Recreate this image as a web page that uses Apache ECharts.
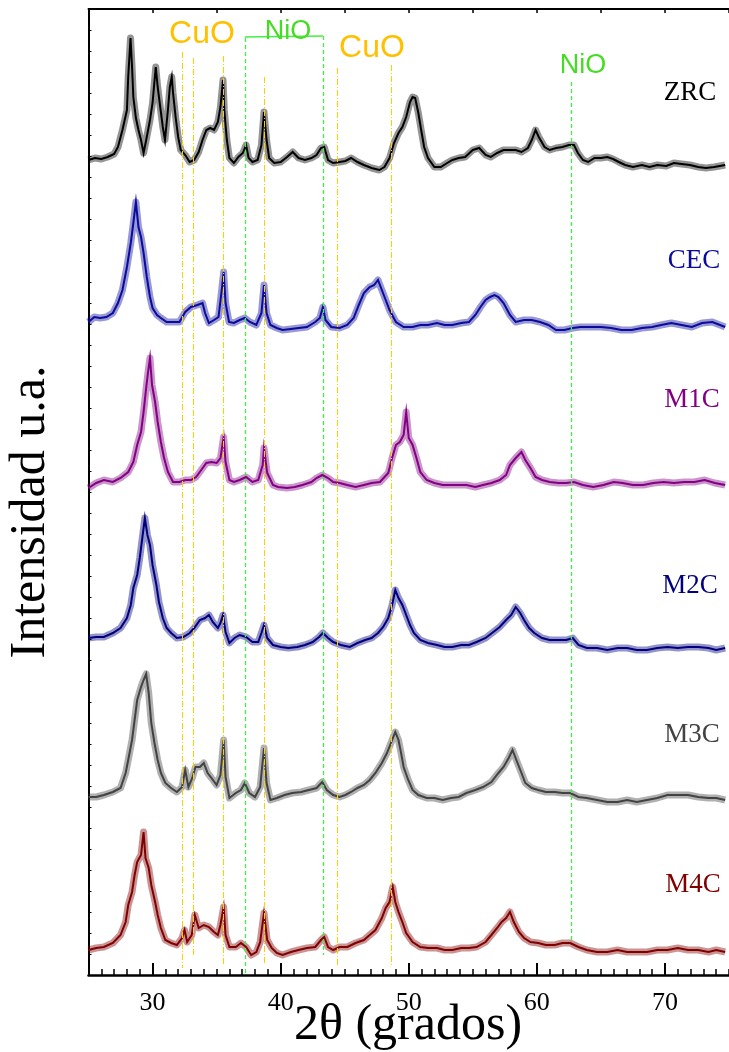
<!DOCTYPE html>
<html><head><meta charset="utf-8">
<script src="https://cdn.jsdelivr.net/npm/echarts@6/dist/echarts.min.js"></script>
<style>html,body{margin:0;padding:0;background:#fff}#c{width:729px;height:1052px}</style>
</head><body><div id="c"></div>
<script>
// ---------- DATA ----------
const sampleNames = ['ZRC','CEC','M1C','M2C','M3C','M4C'];
const xTickLabels = [30,40,50,60,70];
const cuoPeaks = [32.3,33.2,35.5,38.7,44.4,48.6];
const nioPeaks = [37.2,43.3,62.7];
// intensity above each pattern's own baseline (a.u.)
const zrc = [[25.0,12],[25.5,14],[26.0,13],[26.5,15],[27.0,18],[27.3,25],[27.65,42],[28.0,62],[28.1,95],[28.28,134],[28.4,105],[28.5,75],[28.7,54],[28.9,42],[29.1,32],[29.3,19],[29.55,35],[29.8,52],[30.0,69],[30.25,105],[30.4,85],[30.6,65],[30.8,45],[30.97,32],[31.2,62],[31.35,85],[31.5,95],[31.6,79],[31.8,55],[32.0,35],[32.2,22],[32.55,17],[32.9,10],[33.25,12],[33.6,20],[33.9,32],[34.2,42],[34.5,44],[34.8,42],[35.1,50],[35.3,65],[35.5,92],[35.6,62],[35.8,32],[36.0,14],[36.35,9],[36.7,15],[37.05,19],[37.3,27],[37.5,14],[37.8,10],[38.2,12],[38.5,27],[38.7,60],[38.9,32],[39.1,14],[39.5,9],[40.0,10],[40.5,15],[40.94,20],[41.4,14],[41.9,12],[42.4,14],[42.8,17],[43.15,24],[43.4,25],[43.7,12],[44.1,9],[44.6,10],[45.05,11],[45.5,14],[46.0,10],[46.5,7],[47.1,4],[47.7,2],[48.1,5],[48.5,14],[48.85,29],[49.2,39],[49.5,45],[49.8,55],[50.1,70],[50.3,75],[50.5,74],[50.75,59],[50.97,42],[51.2,25],[51.5,14],[52.0,5],[52.5,5],[53.0,9],[53.4,12],[53.9,14],[54.4,15],[55.0,22],[55.5,24],[56.0,17],[56.4,15],[56.9,19],[57.4,22],[57.9,22],[58.35,22],[58.8,20],[59.3,24],[59.6,32],[59.9,42],[60.15,35],[60.6,25],[61.0,22],[61.5,24],[62.0,25],[62.5,27],[62.9,27],[63.2,19],[63.6,12],[64.0,10],[64.5,14],[65.0,14],[65.5,15],[65.95,13],[66.4,10],[66.9,7],[67.5,5],[68.2,7],[68.8,5],[69.4,7],[70.1,6],[70.7,9],[71.3,8],[71.95,7],[72.6,5],[73.2,4],[73.85,5],[74.7,7]];
const cec = [[25.0,13],[25.45,18],[25.9,17],[26.4,18],[26.9,22],[27.3,32],[27.65,45],[28.0,68],[28.3,92],[28.5,112],[28.7,133],[28.9,108],[29.1,98],[29.3,82],[29.55,58],[29.8,38],[30.0,27],[30.35,20],[30.65,17],[31.1,13],[31.6,13],[32.1,13],[32.55,23],[33.0,28],[33.5,30],[33.9,32],[34.1,22],[34.4,12],[34.8,15],[35.15,18],[35.4,45],[35.55,63],[35.7,32],[35.97,13],[36.35,12],[36.8,15],[37.2,17],[37.6,13],[38.1,10],[38.5,22],[38.7,50],[38.9,22],[39.2,10],[39.7,7],[40.15,5],[40.8,6],[41.4,7],[42.05,8],[42.7,13],[43.06,17],[43.3,28],[43.5,15],[43.95,8],[44.6,7],[45.2,10],[45.7,17],[46.1,30],[46.5,42],[46.95,48],[47.3,50],[47.6,55],[47.9,45],[48.2,35],[48.5,25],[49.0,13],[49.6,8],[50.3,8],[50.9,10],[51.5,10],[52.2,12],[52.8,10],[53.4,10],[54.1,12],[54.7,13],[55.2,20],[55.6,28],[56.0,35],[56.35,38],[56.7,40],[57.0,38],[57.4,32],[57.9,20],[58.35,13],[59.0,15],[59.6,15],[60.25,13],[60.9,10],[61.5,5],[62.15,5],[62.8,7],[63.4,8],[64.2,8],[65.0,8],[65.8,7],[66.6,5],[67.4,5],[68.2,7],[69.0,8],[69.7,10],[70.5,12],[71.3,10],[72.1,8],[72.9,12],[73.7,13],[74.7,8]];
const m1c = [[25.0,4],[25.6,9],[26.2,12],[26.9,10],[27.5,14],[28.1,20],[28.5,30],[28.8,47],[29.1,60],[29.3,80],[29.5,104],[29.65,120],[29.8,134],[29.96,107],[30.2,90],[30.4,70],[30.65,50],[30.9,34],[31.2,20],[31.6,10],[32.1,10],[32.55,12],[33.0,12],[33.4,15],[33.8,22],[34.2,29],[34.6,30],[35.0,29],[35.3,34],[35.55,55],[35.7,30],[36.0,12],[36.35,10],[36.8,12],[37.3,15],[37.8,10],[38.25,12],[38.6,27],[38.7,44],[38.95,19],[39.4,7],[39.8,5],[40.5,4],[41.1,5],[41.7,7],[42.4,10],[42.8,14],[43.25,17],[43.7,14],[44.1,10],[44.6,9],[45.2,7],[45.85,5],[46.5,7],[47.1,9],[47.75,10],[48.4,19],[48.7,34],[49.0,47],[49.3,50],[49.6,57],[49.8,80],[50.0,54],[50.3,47],[50.6,34],[50.9,20],[51.4,12],[52.0,9],[52.65,7],[53.3,7],[53.9,7],[54.5,7],[55.2,5],[55.8,7],[56.45,9],[57.1,12],[57.6,17],[57.9,27],[58.35,34],[58.8,40],[59.1,32],[59.5,24],[59.9,15],[60.4,12],[61.0,10],[61.7,9],[62.3,9],[62.9,10],[63.6,7],[64.4,5],[65.2,7],[66.0,10],[66.7,9],[67.5,7],[68.3,7],[69.1,9],[69.9,10],[70.7,9],[71.5,10],[72.3,10],[73.1,12],[73.9,9],[74.7,7]];
const m2c = [[25.0,14],[25.6,15],[26.2,15],[26.9,19],[27.5,24],[28.0,34],[28.3,47],[28.5,64],[28.8,77],[29.0,94],[29.2,114],[29.4,134],[29.6,117],[29.8,107],[30.0,87],[30.3,67],[30.5,50],[30.8,34],[31.1,24],[31.45,19],[31.9,14],[32.4,15],[32.9,19],[33.25,24],[33.7,32],[34.1,34],[34.4,37],[34.7,30],[35.1,24],[35.3,29],[35.5,37],[35.7,20],[36.0,9],[36.4,14],[36.8,17],[37.3,15],[37.8,10],[38.25,10],[38.5,19],[38.7,27],[38.95,14],[39.4,7],[40.0,5],[40.6,4],[41.3,5],[41.9,7],[42.5,10],[43.0,15],[43.3,19],[43.7,14],[44.1,10],[44.7,7],[45.4,5],[46.0,9],[46.6,12],[47.1,14],[47.6,19],[48.0,25],[48.4,34],[48.7,47],[48.95,62],[49.2,54],[49.5,47],[49.8,37],[50.1,27],[50.4,19],[50.9,12],[51.5,9],[52.2,7],[52.8,5],[53.4,5],[54.1,7],[54.7,7],[55.3,10],[56.0,14],[56.5,19],[57.1,25],[57.6,32],[58.0,37],[58.35,45],[58.7,39],[59.0,32],[59.4,24],[59.8,19],[60.4,14],[61.0,12],[61.7,12],[62.3,12],[62.8,14],[63.25,7],[63.9,4],[64.7,4],[65.5,2],[66.3,4],[67.05,4],[67.8,2],[68.6,2],[69.4,4],[70.2,5],[71.0,4],[71.8,5],[72.6,5],[73.4,4],[74.0,2],[74.7,4]];
const m3c = [[25.0,8],[25.6,8],[26.2,10],[26.9,13],[27.5,17],[27.9,32],[28.1,45],[28.4,65],[28.6,85],[28.8,105],[29.1,118],[29.3,125],[29.5,131],[29.7,112],[29.9,82],[30.15,62],[30.4,45],[30.65,32],[31.0,22],[31.45,17],[31.9,13],[32.3,18],[32.55,35],[32.8,18],[33.1,27],[33.35,38],[33.7,38],[34.0,42],[34.3,32],[34.6,27],[35.0,20],[35.3,30],[35.55,65],[35.7,28],[36.0,7],[36.5,12],[36.9,15],[37.2,22],[37.55,12],[38.0,8],[38.4,18],[38.7,57],[38.9,22],[39.2,5],[39.7,7],[40.3,10],[40.9,12],[41.6,13],[42.2,15],[42.8,17],[43.25,23],[43.6,15],[44.1,10],[44.6,8],[45.05,10],[45.5,13],[46.0,17],[46.5,20],[46.95,25],[47.4,32],[47.9,42],[48.3,52],[48.7,65],[48.95,73],[49.2,65],[49.4,52],[49.6,38],[49.96,25],[50.3,15],[50.75,10],[51.4,7],[52.0,7],[52.65,5],[53.3,7],[53.9,8],[54.5,12],[55.2,15],[55.8,18],[56.45,23],[57.0,32],[57.4,38],[57.8,47],[58.1,55],[58.4,45],[58.8,32],[59.1,22],[59.6,17],[60.1,15],[60.7,13],[61.4,13],[62.0,12],[62.6,12],[63.25,8],[63.9,7],[64.7,5],[65.5,3],[66.3,3],[67.05,5],[67.8,3],[68.6,5],[69.4,7],[70.2,10],[71.0,10],[71.8,10],[72.6,8],[73.4,7],[74.0,7],[74.7,5]];
const m4c = [[25.0,7],[25.6,9],[26.2,10],[26.9,14],[27.5,22],[27.9,35],[28.1,52],[28.4,65],[28.6,82],[28.8,95],[29.1,102],[29.3,125],[29.45,99],[29.7,89],[29.9,72],[30.2,55],[30.4,42],[30.65,29],[31.0,17],[31.45,14],[31.9,12],[32.3,19],[32.5,27],[32.7,15],[33.06,22],[33.3,42],[33.6,29],[34.0,32],[34.4,30],[34.8,25],[35.1,22],[35.3,32],[35.55,50],[35.7,22],[36.0,10],[36.5,10],[36.9,14],[37.3,10],[37.7,2],[38.1,5],[38.4,15],[38.7,44],[38.95,17],[39.3,9],[39.7,4],[40.15,2],[40.8,5],[41.4,7],[42.05,9],[42.7,10],[43.15,17],[43.4,20],[43.7,10],[44.1,7],[44.6,10],[45.2,10],[45.85,14],[46.5,17],[46.95,22],[47.4,27],[47.9,39],[48.2,49],[48.5,55],[48.75,70],[48.95,55],[49.2,45],[49.5,35],[49.8,24],[50.3,15],[50.9,10],[51.5,9],[52.2,9],[52.8,7],[53.4,7],[54.1,9],[54.7,9],[55.3,10],[56.0,15],[56.45,22],[56.9,29],[57.25,35],[57.6,39],[57.9,45],[58.2,35],[58.6,25],[59.0,19],[59.5,15],[60.1,14],[60.7,12],[61.4,12],[62.0,14],[62.6,14],[63.25,10],[63.9,7],[64.7,5],[65.5,5],[66.3,7],[67.05,5],[67.8,5],[68.6,5],[69.4,7],[70.2,7],[71.0,9],[71.8,7],[72.6,7],[73.4,5],[74.0,7],[74.7,5]];
// vertical stacking offset of each pattern (a.u.)
const offsets = [803,640,483,323,170,18];

// ---------- STYLE / LAYOUT ----------
const curves = [zrc,cec,m1c,m2c,m3c,m4c];
const colors = ['#000000','#0a0a9c','#820082','#00007e','#424242','#800000'];
const labelPos = [[690,93],[694,261],[692,400],[690,586],[692,735],[693,885]];
const cuoSpan = {32.3:[923,7],33.2:[917,20],35.5:[919,10],38.7:[898,10],44.4:[907,10],48.6:[910,10]};
const nioSpan = {37.2:[937,0],43.3:[939,20],62.7:[893,35]};
const CUO_LINE = '#FFD000', NIO_LINE = '#44EE44';
const CUO_TEXT = '#FFC000', NIO_TEXT = '#44DD22';

const chart = echarts.init(document.getElementById('c'), null, {renderer:'canvas'});
const series = [];
curves.forEach((c,i)=>{
  const d = c.map(p=>[p[0], p[1]+offsets[i]]);
  series.push({type:'line', xAxisIndex:0, yAxisIndex:0, data:d, symbol:'none', silent:true, z:2,
    lineStyle:{color:colors[i], width:7, opacity:0.42, join:'round'}});
  series.push({type:'line', name:sampleNames[i], xAxisIndex:0, yAxisIndex:0, data:d, symbol:'none', z:3,
    lineStyle:{color:colors[i], width:2, join:'miter'}});
});
const ml = [];
cuoPeaks.forEach(p=>{
  const s = cuoSpan[p];
  ml.push([{coord:[p,s[0]], lineStyle:{color:CUO_LINE, width:1, type:[6,2,1,2]}},{coord:[p,s[1]]}]);
});
nioPeaks.forEach(p=>{
  const s = nioSpan[p];
  ml.push([{coord:[p,s[0]], lineStyle:{color:NIO_LINE, width:1.3, type:[4,3]}},{coord:[p,s[1]]}]);
});
ml.push([{coord:[nioPeaks[0],938], lineStyle:{color:NIO_LINE, width:1.3, type:'solid'}},{coord:[nioPeaks[1],939]}]);
series.push({type:'line', xAxisIndex:0, yAxisIndex:0, data:[], z:5, silent:true,
  markLine:{symbol:['none','none'], silent:true, label:{show:false}, animation:false, data:ml}});

const graphic = [];
sampleNames.forEach((n,i)=>{
  graphic.push({type:'text', x:labelPos[i][0], y:labelPos[i][1], z:10,
    style:{text:n, fill:colors[i], font:'27px "Liberation Serif"', textAlign:'center', textVerticalAlign:'middle'}});
});
graphic.push({type:'text', x:202, y:34, z:10, style:{text:'CuO', fill:CUO_TEXT, font:'32px "Liberation Sans"', textAlign:'center', textVerticalAlign:'middle'}});
graphic.push({type:'text', x:372, y:48, z:10, style:{text:'CuO', fill:CUO_TEXT, font:'32px "Liberation Sans"', textAlign:'center', textVerticalAlign:'middle'}});
graphic.push({type:'text', x:288, y:32, z:10, style:{text:'NiO', fill:NIO_TEXT, font:'27px "Liberation Sans"', textAlign:'center', textVerticalAlign:'middle'}});
graphic.push({type:'text', x:583, y:66, z:10, style:{text:'NiO', fill:NIO_TEXT, font:'27px "Liberation Sans"', textAlign:'center', textVerticalAlign:'middle'}});
// axis titles
graphic.push({type:'text', x:31, y:512, rotation:Math.PI/2, z:10, style:{text:'Intensidad u.a.', fill:'#000', font:'50px "Liberation Serif"', textAlign:'center', textVerticalAlign:'middle'}});
graphic.push({type:'text', x:408, y:1026, z:10, style:{text:'2θ (grados)', fill:'#000', font:'50px "Liberation Serif"', textAlign:'center', textVerticalAlign:'middle'}});

const gridBox = {left:88.5, right:-6, top:9, bottom:77, containLabel:false};
chart.setOption({
  animation:false,
  backgroundColor:'#fff',
  grid:[Object.assign({},gridBox), Object.assign({},gridBox)],
  xAxis:[
    {gridIndex:0, type:'value', min:25, max:75, interval:1, position:'bottom',
     axisLine:{lineStyle:{color:'#000', width:2.5}},
     axisTick:{inside:true, length:6, lineStyle:{color:'#000', width:1.5}},
     axisLabel:{show:false}, splitLine:{show:false}},
    {gridIndex:0, type:'value', min:25, max:75, interval:5, position:'top',
     axisLine:{lineStyle:{color:'#000', width:2}},
     axisTick:{inside:true, length:4, lineStyle:{color:'#000', width:1.5}},
     axisLabel:{show:false}, splitLine:{show:false}},
    {gridIndex:1, type:'value', min:25, max:75, position:'bottom',
     axisLine:{show:false},
     axisTick:{inside:true, length:12, customValues:xTickLabels, lineStyle:{color:'#000', width:2}},
     axisLabel:{customValues:xTickLabels, fontFamily:'Liberation Serif', fontSize:26, color:'#000', margin:15},
     splitLine:{show:false}}
  ],
  yAxis:[
    {gridIndex:0, type:'value', min:0, max:966, interval:21,
     axisLine:{show:true, lineStyle:{color:'#000', width:2}},
     axisTick:{show:true, inside:true, length:3, lineStyle:{color:'#000', width:1}},
     axisLabel:{show:false}, splitLine:{show:false}},
    {gridIndex:1, type:'value', min:0, max:966, show:false}
  ],
  graphic: graphic,
  series: series
});
</script>
</body></html>
